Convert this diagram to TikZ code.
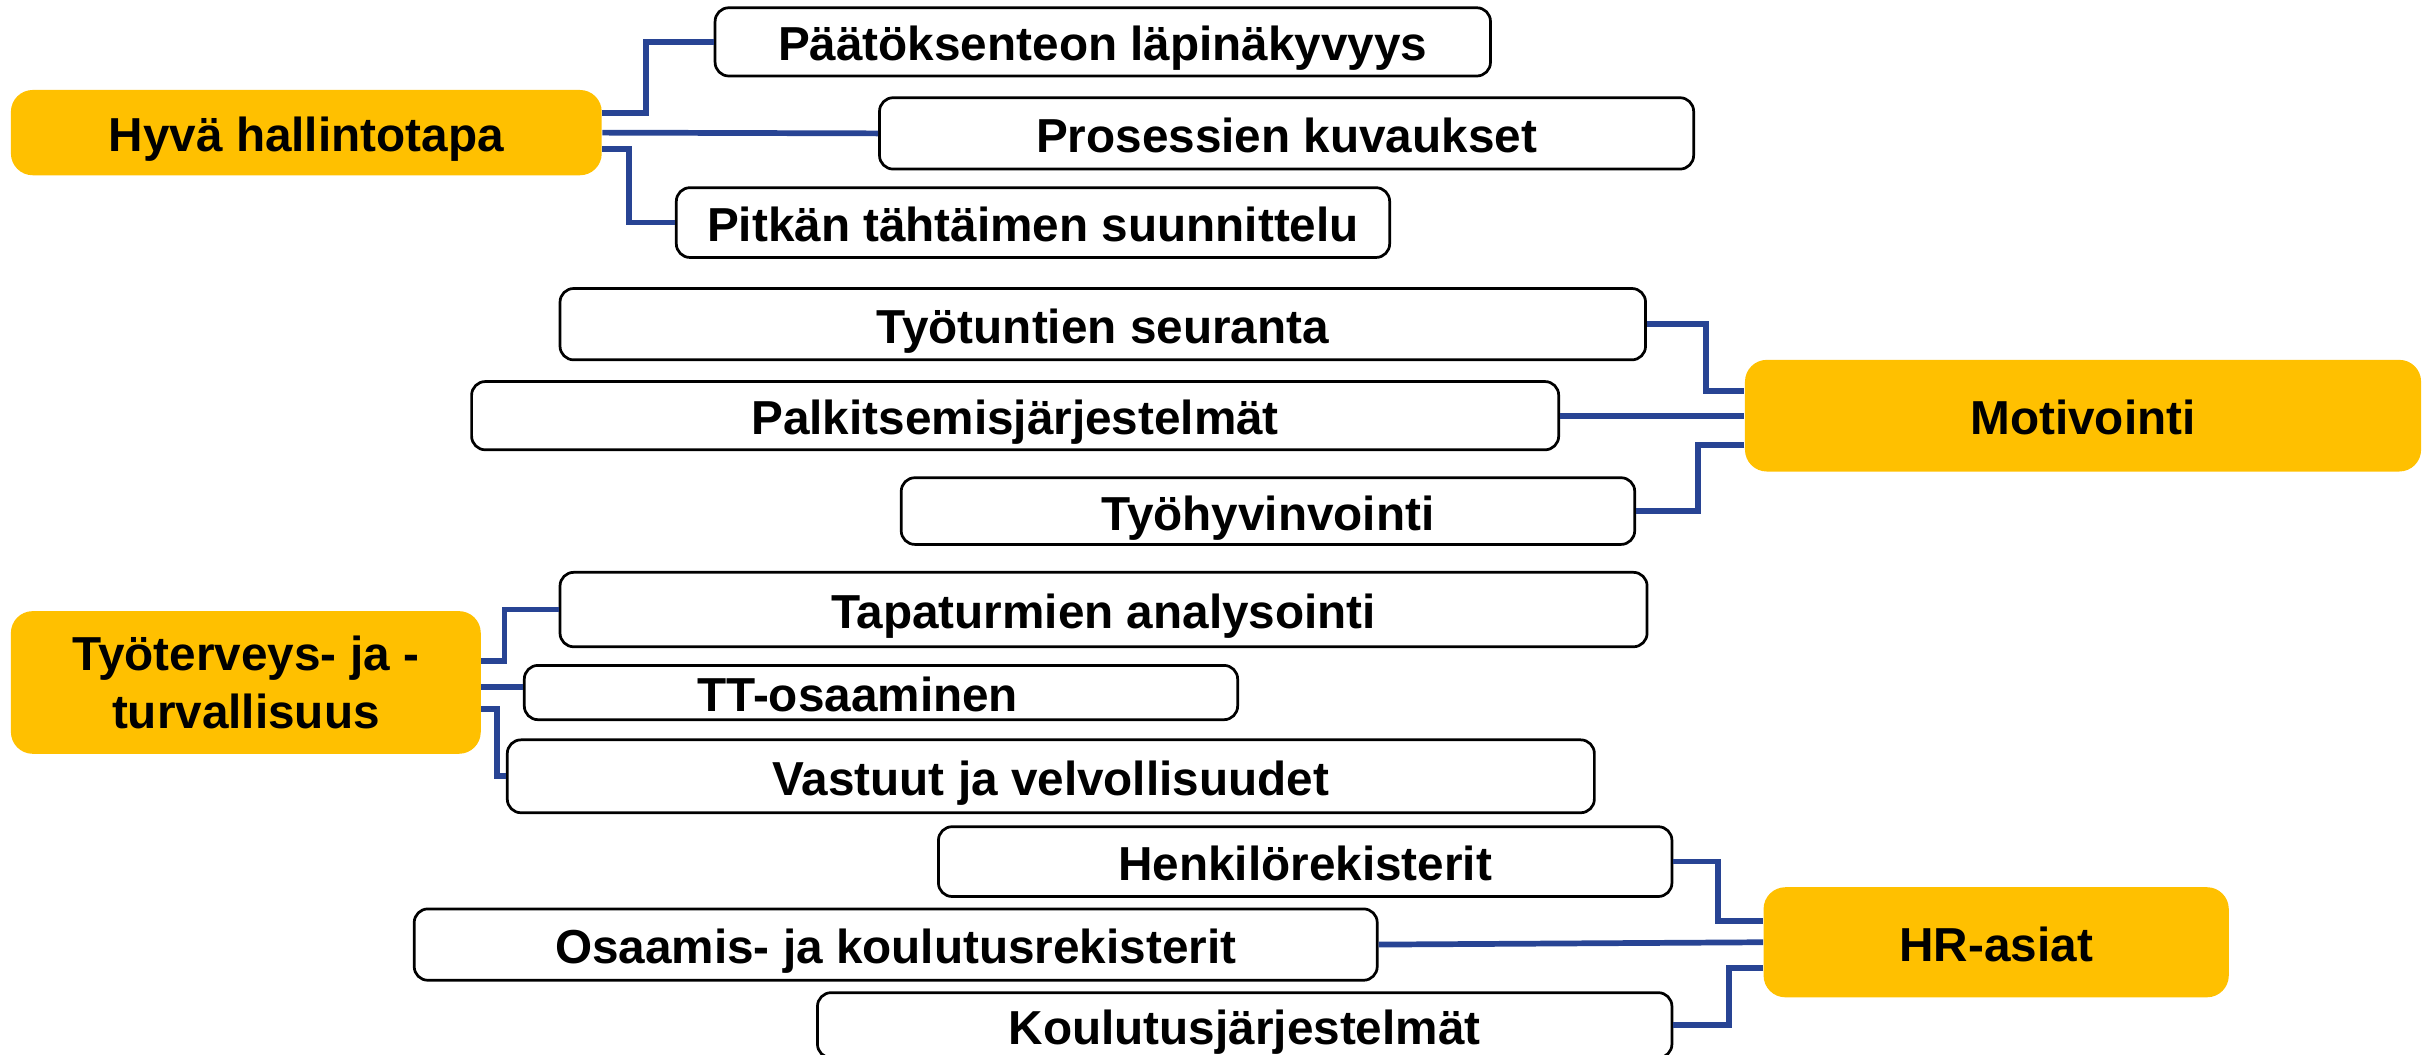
\documentclass[tikz,border=0pt]{standalone}
\usepackage{fontspec}
\setmainfont{Liberation Sans}
\usetikzlibrary{calc}
\definecolor{hdr}{RGB}{255,192,0}
\definecolor{conn}{RGB}{40,68,148}
\begin{document}
\begin{tikzpicture}[x=0.02cm,y=-0.02cm,
  base/.style={inner sep=0pt, font=\fontsize{17.5}{21}\selectfont\bfseries, align=center},
  fixed/.style={text height=14pt, text depth=0pt},
  wbox/.style={base, fixed, draw=black, line width=1pt, fill=white, rounded corners=5pt},
  obox/.style={base, fill=hdr, rounded corners=8pt},
  link/.style={draw=conn, line width=2.1pt}]
\useasboundingbox (0,0) rectangle (1568,680);
\clip (0,0) rectangle (1568,680);
% group 1
\node[obox, fixed, minimum width=7.62cm, minimum height=1.1cm] (hyva) at (197.5,85.5) {Hyvä hallintotapa};
\node[wbox, minimum width=10.0cm, minimum height=0.88cm] (paat) at (711,27) {Päätöksenteon läpinäkyvyys};
\node[wbox, minimum width=10.5cm, minimum height=0.92cm] (pros) at (829.5,86) {Prosessien kuvaukset};
\node[wbox, minimum width=9.2cm, minimum height=0.9cm] (pitk) at (666,143.5) {Pitkän tähtäimen suunnittelu};
% group 2
\node[wbox, minimum width=14.0cm, minimum height=0.92cm] (tyot) at (711,209) {Työtuntien seuranta};
\node[wbox, minimum width=14.02cm, minimum height=0.88cm] (palk) at (654.5,268) {Palkitsemisjärjestelmät};
\node[obox, fixed, minimum width=8.72cm, minimum height=1.44cm] (moti) at (1343,268) {Motivointi};
\node[wbox, minimum width=9.46cm, minimum height=0.86cm] (tyoh) at (817.5,329.5) {Työhyvinvointi};
% group 3
\node[obox, minimum width=6.06cm, minimum height=1.84cm] (ttur) at (158.5,440) {Työterveys- ja -\\turvallisuus};
\node[wbox, minimum width=14.02cm, minimum height=0.96cm] (tapa) at (711.5,393) {Tapaturmien analysointi};
\node[wbox, minimum width=9.2cm, minimum height=0.7cm] (ttos) at (568,446.5) {TT-osaaminen\hspace{0.6cm}};
\node[wbox, minimum width=14.02cm, minimum height=0.94cm] (vast) at (677.5,500.5) {Vastuut ja velvollisuudet};
% group 4
\node[wbox, minimum width=9.46cm, minimum height=0.9cm] (henk) at (841.5,555.5) {Henkilörekisterit};
\node[wbox, minimum width=12.42cm, minimum height=0.92cm] (osaa) at (577.5,609) {Osaamis- ja koulutusrekisterit};
\node[obox, fixed, minimum width=6.0cm, minimum height=1.42cm] (hras) at (1287,607.5) {HR-asiat};
\node[wbox, minimum width=11.02cm, minimum height=0.84cm] (koul) at (802.5,661) {Koulutusjärjestelmät};
% connectors group 1
\draw[link] ($(hyva.east)+(0,-12.5)$) -- ++(28,0) |- (paat.west);
\draw[link] (hyva.east) -- (pros.west);
\draw[link] ($(hyva.east)+(0,10.5)$) -- ++(17,0) |- (pitk.west);
% connectors group 2
\draw[link] (tyot.east) -- ++(38,0) |- ($(moti.west)+(0,-16)$);
\draw[link] (palk.east) -- (moti.west);
\draw[link] ($(moti.west)+(0,19)$) -- ++(-30,0) |- (tyoh.east);
% connectors group 3
\draw[link] ($(ttur.east)+(0,-14)$) -- ++(15,0) |- (tapa.west);
\draw[link] ($(ttur.east)+(0,3)$) -- (ttos.west |- {$(ttur.east)+(0,3)$});
\draw[link] ($(ttur.east)+(0,17)$) -- ++(10,0) |- (vast.west);
% connectors group 4
\draw[link] (henk.east) -- ++(29,0) |- ($(hras.west)+(0,-13.5)$);
\draw[link] (osaa.east) -- (hras.west);
\draw[link] ($(hras.west)+(0,16.5)$) -- ++(-22,0) |- (koul.east);
\end{tikzpicture}
\end{document}
